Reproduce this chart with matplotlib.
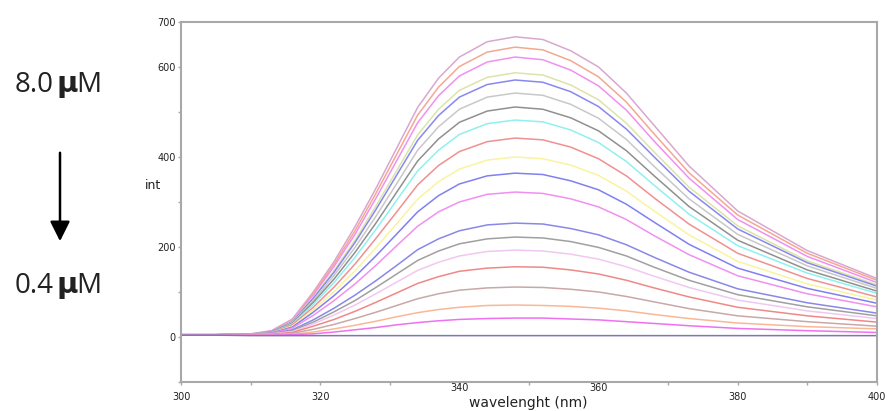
import matplotlib
matplotlib.use("Agg")
import matplotlib.pyplot as plt
from matplotlib.patches import FancyArrowPatch

wavelength = [300, 305, 310, 313, 316, 319, 322, 325, 328, 331, 334, 337, 340,
              344, 348, 352, 356, 360, 364, 368, 373, 380, 390, 400]

c00 = [5, 5, 7, 14, 40, 100, 168, 245, 330, 420, 510, 575, 622, 656, 667, 661, 636, 600, 542, 470, 380, 280, 192, 130]
c01 = [5, 5, 6, 13, 38, 97, 162, 236, 319, 406, 493, 555, 601, 633, 644, 638, 614, 578, 522, 451, 365, 271, 186, 126]
c02 = [5, 5, 6, 13, 37, 93, 157, 228, 308, 392, 476, 536, 580, 611, 622, 616, 593, 558, 504, 435, 353, 261, 179, 121]
c03 = [5, 4, 6, 12, 35, 88, 148, 215, 291, 370, 449, 506, 548, 577, 587, 582, 560, 527, 475, 411, 333, 247, 169, 116]
c04 = [5, 5, 6, 12, 34, 86, 144, 210, 283, 360, 437, 492, 533, 561, 571, 566, 545, 512, 462, 400, 324, 240, 165, 113]
c05 = [5, 5, 6, 11, 33, 81, 137, 199, 268, 341, 415, 467, 506, 533, 542, 537, 517, 486, 439, 379, 307, 228, 158, 108]
c06 = [5, 5, 6, 11, 31, 77, 129, 188, 253, 322, 391, 440, 477, 502, 511, 506, 487, 458, 414, 358, 290, 215, 149, 102]
c07 = [5, 5, 6, 10, 29, 72, 121, 177, 239, 304, 369, 415, 450, 474, 482, 478, 460, 432, 390, 337, 273, 203, 142, 97]
c08 = [5, 5, 6, 10, 27, 66, 111, 162, 219, 278, 338, 381, 412, 434, 442, 438, 422, 396, 358, 309, 251, 186, 130, 89]
c09 = [5, 5, 6, 9, 24, 60, 101, 147, 198, 252, 306, 345, 373, 393, 400, 396, 382, 359, 324, 280, 227, 168, 118, 82]
c10 = [5, 5, 6, 9, 22, 55, 92, 134, 180, 229, 278, 314, 340, 358, 364, 361, 347, 327, 295, 255, 206, 153, 108, 75]
c11 = [5, 5, 6, 8, 20, 48, 81, 118, 159, 203, 246, 278, 300, 317, 322, 319, 307, 289, 261, 225, 183, 136, 96, 67]
c12 = [5, 5, 6, 7, 16, 38, 64, 93, 125, 159, 194, 218, 236, 249, 253, 251, 241, 227, 205, 177, 144, 107, 76, 53]
c13 = [5, 5, 6, 7, 14, 33, 56, 81, 110, 140, 170, 191, 207, 218, 222, 220, 212, 199, 180, 155, 126, 94, 67, 47]
c14 = [5, 5, 6, 7, 12, 29, 49, 71, 96, 122, 148, 166, 180, 190, 193, 191, 184, 173, 156, 135, 110, 82, 58, 41]
c15 = [5, 5, 6, 6, 10, 24, 39, 57, 77, 98, 119, 134, 146, 153, 156, 155, 149, 140, 126, 109, 89, 66, 47, 33]
c16 = [5, 5, 5, 6, 8, 17, 28, 41, 55, 70, 85, 96, 104, 109, 111, 110, 106, 100, 90, 78, 63, 47, 34, 24]
c17 = [5, 5, 5, 5, 6, 11, 18, 26, 35, 45, 54, 61, 66, 70, 71, 70, 68, 64, 58, 50, 41, 31, 23, 18]
c18 = [4, 4, 4, 4, 5, 7, 11, 16, 21, 27, 32, 36, 39, 41, 42, 42, 40, 38, 34, 30, 25, 19, 14, 10]
c19 = [4, 4, 3, 3, 3, 3, 3, 3, 3, 3, 3, 3, 3, 3, 3, 3, 3, 3, 3, 3, 3, 3, 3, 3]

series = [c00, c01, c02, c03, c04, c05, c06, c07, c08, c09,
          c10, c11, c12, c13, c14, c15, c16, c17, c18, c19]
colors = ['#d8a8d0', '#f4a890', '#f090f0', '#dce4a8', '#8888f0',
          '#c8c8c8', '#909090', '#90f0f0', '#f09090', '#f8f4a0',
          '#8080f0', '#f090f0', '#8888e8', '#a0a0a0', '#f0c8f0',
          '#f08888', '#c8a8a8', '#f8b898', '#f070f0', '#7878b8']

x_ticks = [300, 320, 340, 360, 380, 400]
raised_x = [340, 360]
y_ticks = [0, 200, 400, 600, 700]

fig = plt.figure(figsize=(8.92, 4.11), dpi=100)
ax = fig.add_axes([0.203, 0.0706, 0.780, 0.876])

for ys, col in zip(series, colors):
    ax.plot(wavelength, ys, color=col, lw=1.1, solid_joinstyle='round')

ax.set_xlim(300, 400)
ax.set_ylim(-100, 700)
ax.set_xticks(x_ticks)
ax.set_xticks([310, 330, 350, 370, 390], minor=True)
ax.set_yticks(y_ticks)
ax.set_yticks([-100, 100, 300, 500], minor=True)
ax.set_yticklabels([str(v) for v in y_ticks])
ax.set_xticklabels(['' if v in raised_x else str(v) for v in x_ticks])

for sp in ax.spines.values():
    sp.set_color('#a8a8a8')
    sp.set_linewidth(1.5)
ax.tick_params(which='both', direction='out', length=2, width=1, color='#a8a8a8',
               labelsize=7, labelcolor='#222222')
ax.tick_params(axis='x', pad=5)
ax.tick_params(axis='y', pad=2)

# raised 340 / 360 tick labels as in the reference
for v in raised_x:
    ax.text(v, -0.017, str(v), transform=ax.get_xaxis_transform(), ha='center',
            va='center', fontsize=7, color='#222222')

fig.text(528/892, 1 - 403/411, 'wavelenght (nm)', ha='center', va='center',
         fontsize=10, color='#222222')
fig.text(145/892, 1 - 185/411, 'int', ha='left', va='center', fontsize=9, color='#222222')

def conc(label, base_px):
    yb = 1 - base_px/411
    fig.text(54/892, yb, label, ha='right', va='baseline', fontsize=20,
             family='Open Sans', color='#222222')
    fig.text(67.5/892, yb, 'μ', ha='center', va='baseline', fontsize=21,
             family='DejaVu Sans', weight='bold', color='#222222')
    fig.text(76/892, yb, 'M', ha='left', va='baseline', fontsize=20,
             family='Open Sans', color='#222222')

conc('8.0', 92)
conc('0.4', 293)

fig.patches.append(FancyArrowPatch(
    (60/892, 1 - 150/411), (60/892, 1 - 244/411), transform=fig.transFigure,
    arrowstyle='-|>,head_length=0.6,head_width=0.3', mutation_scale=20,
    color='black', lw=1.8))

fig.savefig('out.png', dpi=100)
